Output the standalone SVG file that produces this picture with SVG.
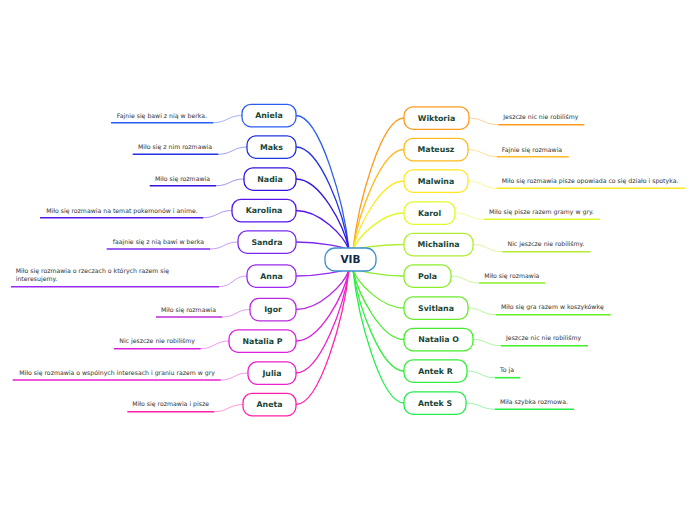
<svg xmlns="http://www.w3.org/2000/svg" width="696" height="520" viewBox="0 0 696 520">
<style>
.n rect{fill:#fff;stroke-width:1.3}
.t{font-family:"DejaVu Sans",Verdana,sans-serif;font-weight:bold;font-size:7.8px;fill:#174535;text-anchor:middle}
.c path{fill:none;stroke-width:1.3}
.s{fill:none;stroke-width:0.9;stroke-opacity:0.5}
.u{stroke-width:1.6}
.l{font-family:"DejaVu Sans",Verdana,sans-serif;font-size:6.2px;fill:#333;text-anchor:start}
.le{text-anchor:end}
</style>
<rect width="696" height="520" fill="#fff"/>
<g id="connectors" class="c">
<path d="M296,115.5 C320,115.5 344,203 349,250" stroke="#2a5cf5"/>
<path d="M296,147 C320,147 344,214 349,250" stroke="#2233e0"/>
<path d="M296,179 C320,179 344,225 349,250" stroke="#3315e0"/>
<path d="M296,210.5 C320,210.5 344,236 349,250" stroke="#5515ee"/>
<path d="M296,242 C320,242 344,247 349,250" stroke="#7a2aee"/>
<path d="M296,276 C320,276 344,271 349,268" stroke="#9a2aee"/>
<path d="M296,309.5 C320,309.5 344,284 349,270" stroke="#bb2ade"/>
<path d="M296,341 C320,341 344,295 349,270" stroke="#dd1fdd"/>
<path d="M296,373 C320,373 344,306 349,270" stroke="#ee1fcc"/>
<path d="M296,404.5 C320,404.5 344,317 349,270" stroke="#ff1fac"/>
<path d="M404,118 C381,118 358,204 353,250" stroke="#ff9a1f"/>
<path d="M404,149.5 C381,149.5 358,215 353,250" stroke="#ffbb1f"/>
<path d="M404,181 C381,181 358,226 353,250" stroke="#ffe81f"/>
<path d="M404,213 C381,213 358,237 353,250" stroke="#e2fa2a"/>
<path d="M404,244.5 C381,244.5 358,248 353,250" stroke="#b2ee33"/>
<path d="M404,276 C381,276 358,271 353,268" stroke="#8aee2a"/>
<path d="M404,308 C381,308 358,283 353,270" stroke="#66ee2a"/>
<path d="M404,339.5 C381,339.5 358,294 353,270" stroke="#44ee2a"/>
<path d="M404,371 C381,371 358,305 353,270" stroke="#33ee3a"/>
<path d="M404,403 C381,403 358,317 353,270" stroke="#22ee4a"/>
</g>
<g id="center">
<rect x="325" y="248" width="51" height="23" rx="10" fill="#fff" stroke="#3d8fd0" stroke-width="1.3"/>
<text x="350.5" y="263.3" font-family="'DejaVu Sans',Verdana,sans-serif" font-weight="bold" font-size="10.5" fill="#14284a" text-anchor="middle">VIB</text>
</g>
<g id="aniela" class="n"><rect x="242" y="104.3" width="54" height="22.5" rx="9" stroke="#2a5cf5"/><text class="t" x="269" y="118.3">Aniela</text>
<path class="s" d="M242,115.5 C228,115.5 227,122.7 213.3,122.7" stroke="#2a5cf5"/><line class="u" x1="111" y1="122.7" x2="213.3" y2="122.7" stroke="#2a5cf5"/><text class="l le" x="207" y="117.7">Fajnie się bawi z nią w berka.</text></g>
<g id="maks" class="n"><rect x="247" y="135.8" width="49" height="22.5" rx="9" stroke="#2233e0"/><text class="t" x="271.5" y="149.8">Maks</text>
<path class="s" d="M247,147 C233,147 232,154.3 218.3,154.3" stroke="#2233e0"/><line class="u" x1="132.7" y1="154.3" x2="218.3" y2="154.3" stroke="#2233e0"/><text class="l le" x="212" y="149.2">Miło się z nim rozmawia</text></g>
<g id="nadia" class="n"><rect x="244" y="167.8" width="52" height="22.5" rx="9" stroke="#3315e0"/><text class="t" x="270" y="181.8">Nadia</text>
<path class="s" d="M244,179 C230,179 230,185.7 216,185.7" stroke="#3315e0"/><line class="u" x1="149.7" y1="185.7" x2="216" y2="185.7" stroke="#3315e0"/><text class="l le" x="210" y="180.7">Miło się rozmawia</text></g>
<g id="karolina" class="n"><rect x="232" y="199.3" width="64" height="22.5" rx="9" stroke="#5515ee"/><text class="t" x="264" y="213.3">Karolina</text>
<path class="s" d="M232,210.5 C218,210.5 217,217.7 203.3,217.7" stroke="#5515ee"/><line class="u" x1="40" y1="217.7" x2="203.3" y2="217.7" stroke="#5515ee"/><text class="l le" x="197.7" y="212.7">Miło się rozmawia na temat pokemonów i anime.</text></g>
<g id="sandra" class="n"><rect x="238" y="230.8" width="58" height="22.5" rx="9" stroke="#7a2aee"/><text class="t" x="267" y="244.8">Sandra</text>
<path class="s" d="M238,242 C224,242 224,249 210,249" stroke="#7a2aee"/><line class="u" x1="106.7" y1="249" x2="210" y2="249" stroke="#7a2aee"/><text class="l le" x="204" y="243.7">faajnie się z nią bawi w berka</text></g>
<g id="anna" class="n"><rect x="247" y="264.8" width="49" height="22.5" rx="9" stroke="#9a2aee"/><text class="t" x="271.5" y="278.8">Anna</text>
<path class="s" d="M247,276 C233,276 233,286.7 219,286.7" stroke="#9a2aee"/><line class="u" x1="11" y1="286.7" x2="219" y2="286.7" stroke="#9a2aee"/><text class="l" x="15.7" y="273.3">Miło się rozmawia o rzeczach o których razem się</text><text class="l" x="15.7" y="280.8">interesujemy.</text></g>
<g id="igor" class="n"><rect x="250" y="298.3" width="46" height="22.5" rx="9" stroke="#bb2ade"/><text class="t" x="273" y="312.3">Igor</text>
<path class="s" d="M250,309.5 C236,309.5 236,317 222.3,317" stroke="#bb2ade"/><line class="u" x1="156" y1="317" x2="222.3" y2="317" stroke="#bb2ade"/><text class="l le" x="216" y="311.7">Miło się rozmawia</text></g>
<g id="nataliap" class="n"><rect x="229" y="329.8" width="67" height="22.5" rx="9" stroke="#dd1fdd"/><text class="t" x="262.5" y="343.8">Natalia P</text>
<path class="s" d="M229,341 C215,341 214,348.7 200.7,348.7" stroke="#dd1fdd"/><line class="u" x1="114" y1="348.7" x2="200.7" y2="348.7" stroke="#dd1fdd"/><text class="l le" x="195" y="343.3">Nic jeszcze nie robiliśmy</text></g>
<g id="julia" class="n"><rect x="248" y="361.8" width="48" height="22.5" rx="9" stroke="#ee1fcc"/><text class="t" x="272" y="375.8">Julia</text>
<path class="s" d="M248,373 C234,373 234,380 220.7,380" stroke="#ee1fcc"/><line class="u" x1="12.7" y1="380" x2="220.7" y2="380" stroke="#ee1fcc"/><text class="l le" x="215" y="374.5">Miło się rozmawia o wspólnych interesach i graniu razem w gry</text></g>
<g id="aneta" class="n"><rect x="243" y="393.3" width="53" height="22.5" rx="9" stroke="#ff1fac"/><text class="t" x="269.5" y="407.3">Aneta</text>
<path class="s" d="M243,404.5 C229,404.5 228,411.7 214.3,411.7" stroke="#ff1fac"/><line class="u" x1="127.3" y1="411.7" x2="214.3" y2="411.7" stroke="#ff1fac"/><text class="l le" x="209" y="406">Miło się rozmawia i pisze</text></g>
<g id="wiktoria" class="n"><rect x="404" y="106.8" width="65" height="22.5" rx="9" stroke="#ff9a1f"/><text class="t" x="436.5" y="120.8">Wiktoria</text>
<path class="s" d="M469,118 C483,118 484,124.7 498.3,124.7" stroke="#ff9a1f"/><line class="u" x1="498.3" y1="124.7" x2="584.3" y2="124.7" stroke="#ff9a1f"/><text class="l" x="503.3" y="119.3">Jeszcze nic nie robiliśmy</text></g>
<g id="mateusz" class="n"><rect x="404" y="138.3" width="64" height="22.5" rx="9" stroke="#ffbb1f"/><text class="t" x="436" y="152.3">Mateusz</text>
<path class="s" d="M468,149.5 C482,149.5 483,156.7 496.7,156.7" stroke="#ffbb1f"/><line class="u" x1="496.7" y1="156.7" x2="568.7" y2="156.7" stroke="#ffbb1f"/><text class="l" x="501.7" y="151.7">Fajnie się rozmawia</text></g>
<g id="malwina" class="n"><rect x="404" y="169.8" width="64" height="22.5" rx="9" stroke="#ffe81f"/><text class="t" x="436" y="183.8">Malwina</text>
<path class="s" d="M468,181 C482,181 483,188.3 496.7,188.3" stroke="#ffe81f"/><line class="u" x1="496.7" y1="188.3" x2="685" y2="188.3" stroke="#ffe81f"/><text class="l" x="501.7" y="182.6">Miło się rozmawia pisze opowiada co się działo i spotyka.</text></g>
<g id="karol" class="n"><rect x="404" y="201.8" width="51" height="22.5" rx="9" stroke="#e2fa2a"/><text class="t" x="429.5" y="215.8">Karol</text>
<path class="s" d="M455,213 C469,213 470,219.3 484,219.3" stroke="#e2fa2a"/><line class="u" x1="484" y1="219.3" x2="600" y2="219.3" stroke="#e2fa2a"/><text class="l" x="489" y="214">Miło się pisze razem gramy w gry.</text></g>
<g id="michalina" class="n"><rect x="404" y="233.3" width="69" height="22.5" rx="9" stroke="#b2ee33"/><text class="t" x="438.5" y="247.3">Michalina</text>
<path class="s" d="M473,244.5 C487,244.5 488,251.7 502.3,251.7" stroke="#b2ee33"/><line class="u" x1="502.3" y1="251.7" x2="590.7" y2="251.7" stroke="#b2ee33"/><text class="l" x="507.5" y="246.2">Nic jeszcze nie robiliśmy.</text></g>
<g id="pola" class="n"><rect x="404" y="264.8" width="47" height="22.5" rx="9" stroke="#8aee2a"/><text class="t" x="427.5" y="278.8">Pola</text>
<path class="s" d="M451,276 C465,276 465,283 479,283" stroke="#8aee2a"/><line class="u" x1="479" y1="283" x2="545.3" y2="283" stroke="#8aee2a"/><text class="l" x="484.3" y="277.7">Miło się rozmawia</text></g>
<g id="svitlana" class="n"><rect x="404" y="296.8" width="64" height="22.5" rx="9" stroke="#66ee2a"/><text class="t" x="436" y="310.8">Svitlana</text>
<path class="s" d="M468,308 C482,308 482,314.7 496,314.7" stroke="#66ee2a"/><line class="u" x1="496" y1="314.7" x2="610.7" y2="314.7" stroke="#66ee2a"/><text class="l" x="501" y="309.4">Miło się gra razem w koszykówkę</text></g>
<g id="nataliao" class="n"><rect x="404" y="328.3" width="69" height="22.5" rx="9" stroke="#44ee2a"/><text class="t" x="438.5" y="342.3">Natalia O</text>
<path class="s" d="M473,339.5 C487,339.5 487,345.7 501,345.7" stroke="#44ee2a"/><line class="u" x1="501" y1="345.7" x2="588" y2="345.7" stroke="#44ee2a"/><text class="l" x="506" y="340.4">Jeszcze nic nie robiliśmy</text></g>
<g id="antekr" class="n"><rect x="404" y="359.8" width="63" height="22.5" rx="9" stroke="#33ee3a"/><text class="t" x="435.5" y="373.8">Antek R</text>
<path class="s" d="M467,371 C481,371 481,377.7 495,377.7" stroke="#33ee3a"/><line class="u" x1="495" y1="377.7" x2="520.3" y2="377.7" stroke="#33ee3a"/><text class="l" x="500" y="372.4">To ja</text></g>
<g id="anteks" class="n"><rect x="404" y="391.8" width="62" height="22.5" rx="9" stroke="#22ee4a"/><text class="t" x="435" y="405.8">Antek S</text>
<path class="s" d="M466,403 C480,403 481,409.3 495,409.3" stroke="#22ee4a"/><line class="u" x1="495" y1="409.3" x2="574" y2="409.3" stroke="#22ee4a"/><text class="l" x="500" y="404.1">Miła szybka rozmowa.</text></g>
</svg>
